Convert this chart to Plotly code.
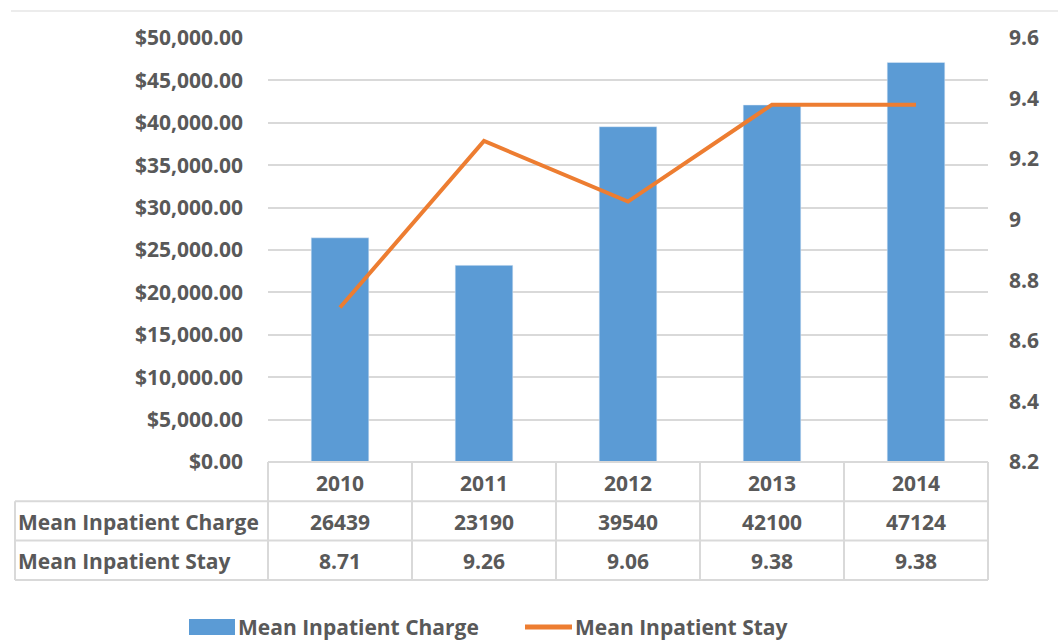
import plotly.graph_objects as go

years = ["2010", "2011", "2012", "2013", "2014"]
mean_charge = [26439, 23190, 39540, 42100, 47124]
mean_stay = [8.71, 9.26, 9.06, 9.38, 9.38]
series_names = ["Mean Inpatient Charge", "Mean Inpatient Stay"]

FONT = "Open Sans"
FS = 21
TXT = "#595959"
GRID = "#d9d9d9"
BLUE = "#5B9BD5"
ORANGE = "#ED7D31"

W, H = 1058, 640
L, R, T, B = 268, 70, 38, 178
PW, PH = W - L - R, H - T - B

def px(x):
    return (x - L) / PW

def py(y):
    return (H - B - y) / PH

fig = go.Figure()
fig.add_trace(go.Bar(x=years, y=mean_charge, name=series_names[0],
                     marker_color=BLUE, width=0.4, yaxis="y", showlegend=False))
fig.add_trace(go.Scatter(x=years, y=mean_stay, name=series_names[1],
                         mode="lines", line=dict(color=ORANGE, width=4),
                         yaxis="y2", showlegend=False))

shapes = []
annotations = []
line_style = dict(color=GRID, width=2)

top = H - B          # 462
row_h = 39.3
rows_y = [top, top + row_h, top + 2 * row_h, top + 3 * row_h]
x_left = 15
col_edges = [L + i * PW / len(years) for i in range(len(years) + 1)]

def hline(x0, x1, y):
    shapes.append(dict(type="line", xref="paper", yref="paper",
                       x0=px(x0), x1=px(x1), y0=py(y), y1=py(y), line=line_style))

def vline(x, y0, y1):
    shapes.append(dict(type="line", xref="paper", yref="paper",
                       x0=px(x), x1=px(x), y0=py(y0), y1=py(y1), line=line_style))

hline(L, L + PW, rows_y[0])
for yy in rows_y[1:]:
    hline(x_left, L + PW, yy)
vline(x_left, rows_y[1], rows_y[3])
for xe in col_edges:
    vline(xe, rows_y[0], rows_y[3])

# top border line
shapes.append(dict(type="line", xref="paper", yref="paper",
                   x0=px(11), x1=px(W), y0=py(11), y1=py(11),
                   line=dict(color="#e6e6e6", width=1.5)))

tfont = dict(family=FONT, size=FS, color=TXT)

def ann(text, x, y, xanchor="center"):
    annotations.append(dict(text="<b>%s</b>" % text, x=px(x), y=py(y),
                            xref="paper", yref="paper", showarrow=False, font=tfont,
                            xanchor=xanchor, yanchor="middle"))

for i, yr in enumerate(years):
    cx = (col_edges[i] + col_edges[i + 1]) / 2
    ann(yr, cx, (rows_y[0] + rows_y[1]) / 2 + 1)
    ann("%d" % mean_charge[i], cx, (rows_y[1] + rows_y[2]) / 2 + 1)
    ann("%.2f" % mean_stay[i], cx, (rows_y[2] + rows_y[3]) / 2 + 1)
for j, nm in enumerate(series_names):
    ann(nm, x_left + 1, (rows_y[j + 1] + rows_y[j + 2]) / 2 + 1, xanchor="left")

# manual legend
leg_y = 627
shapes.append(dict(type="rect", xref="paper", yref="paper",
                   x0=px(189), x1=px(235), y0=py(leg_y - 8), y1=py(leg_y + 8),
                   fillcolor=BLUE, line=dict(width=0)))
ann(series_names[0], 236, leg_y, xanchor="left")
shapes.append(dict(type="line", xref="paper", yref="paper",
                   x0=px(525), x1=px(572), y0=py(leg_y), y1=py(leg_y),
                   line=dict(color=ORANGE, width=5)))
ann(series_names[1], 573, leg_y, xanchor="left")

fig.update_layout(
    width=W, height=H,
    margin=dict(l=L, r=R, t=T, b=B, autoexpand=False),
    paper_bgcolor="white", plot_bgcolor="white",
    font=dict(family=FONT, size=FS, color=TXT),
    xaxis=dict(showticklabels=False, showgrid=False, zeroline=False, showline=False,
               ticks=""),
    yaxis=dict(range=[0, 50000], dtick=5000, tickprefix="<b>$", ticksuffix="</b>",
               tickformat=",.2f", showgrid=True, gridcolor=GRID, gridwidth=1.5,
               zeroline=False, showline=False, ticklabelstandoff=24,
               tickfont=tfont),
    yaxis2=dict(range=[8.2, 9.6], dtick=0.2, overlaying="y", side="right",
                showgrid=False, zeroline=False, showline=False,
                tickprefix="<b>", ticksuffix="</b>", ticklabelstandoff=20,
                tickfont=tfont),
    showlegend=False,
    shapes=shapes,
    annotations=annotations,
)

fig.write_html("out.html", config={"displayModeBar": False},
               post_script="document.body.style.margin='0';document.body.style.overflow='hidden';")
